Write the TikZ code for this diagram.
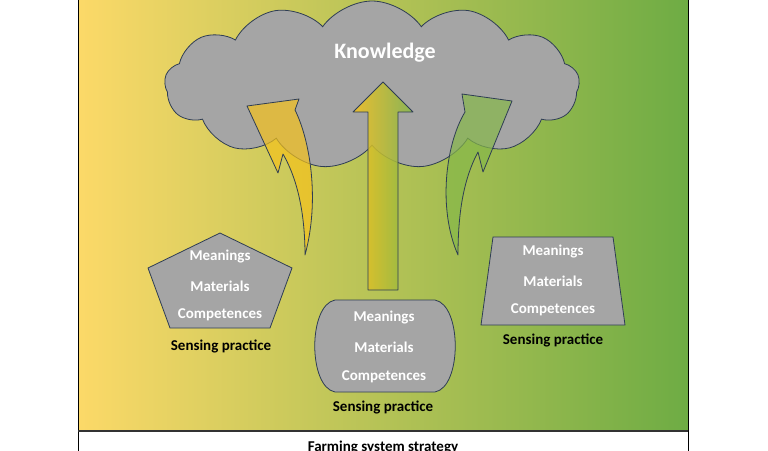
\documentclass[tikz,border=0pt]{standalone}
\usepackage{fontspec}
\setmainfont{Carlito}
\usetikzlibrary{shapes.symbols}
\definecolor{edge}{HTML}{2E3D54}
\definecolor{shapegray}{HTML}{A5A5A5}
\definecolor{yel}{HTML}{FCD968}
\definecolor{mid}{HTML}{E6D76A}
\definecolor{grn}{HTML}{6EAC44}
\definecolor{ayel}{HTML}{F5C21C}
\definecolor{agrn}{HTML}{86B849}
\begin{document}
\begin{tikzpicture}[x=1pt,y=-1pt,
  txt/.style={font=\fontsize{15}{18}\selectfont\bfseries,text=white},
  lbl/.style={font=\fontsize{15}{18}\selectfont\bfseries,text=black},
  blk/.style={fill=shapegray,draw=edge,line width=0.8pt},
  arr/.style={draw=edge,line width=0.8pt,line join=round}]
\useasboundingbox (0,0) rectangle (768,450);
\begin{scope}
\clip (0,0) rectangle (768,450);
\shade[left color=yel,middle color=mid,right color=grn] (78,-2) rectangle (688,431);
\draw[black,line width=0.8pt] (78,-2) -- (78,455) (688,-2) -- (688,455);
\draw[black!80,line width=1.5pt] (78,431) -- (688,431);
\node[lbl] (fss) at (383,448) {Farming system strategy};
\end{scope}
% cloud
\node[cloud,cloud puffs=13,cloud puff arc=110,aspect=2.5,minimum width=415pt,minimum height=168pt,blk] (cloud) at (372,85) {};
\node[font=\fontsize{22}{26}\selectfont\bfseries,text=white] (kn) at (385,53) {Knowledge};
% left arrow
\path[arr,fill=ayel,fill opacity=0.7] (247,106) -- (299,99) -- (295,110)
  .. controls (310,140) and (320,200) .. (305,255)
  .. controls (305,215) and (298,180) .. (283,154)
  -- (278,173) -- cycle;
% right arrow
\path[arr,fill=agrn,fill opacity=0.7] (512,101) -- (462,94) -- (465,112)
  .. controls (445,145) and (438,210) .. (458,255)
  .. controls (458,215) and (463,180) .. (478,152)
  -- (483,172) -- cycle;
% center arrow
\path[arr,left color=ayel,right color=agrn,fill opacity=0.85] (368,290) -- (368,112) -- (353,112) -- (383,82) -- (413,112) -- (398,112) -- (398,290) -- cycle;
% left pentagon
\path[blk] (220,233) -- (292,268) -- (270,328) -- (170,328) -- (148,268) -- cycle;
\node[txt] (l1) at (220,257) {Meanings};
\node[txt] (l2) at (220,286) {Materials};
\node[txt] (l3) at (220,315) {Competences};
\node[lbl] (ll) at (221,346) {Sensing practice};
% middle
\path[blk] (335,300) -- (435,300) .. controls (462,305) and (462,387) .. (435,392) -- (335,392) .. controls (308,387) and (308,305) .. (335,300) -- cycle;
\node[txt] (m1) at (384,318) {Meanings};
\node[txt] (m2) at (384,347) {Materials};
\node[txt] (m3) at (384,377) {Competences};
\node[lbl] (ml) at (383,407) {Sensing practice};
% right trapezoid
\path[blk] (493,237) -- (613,237) -- (625,325) -- (481,325) -- cycle;
\node[txt] (r1) at (553,252) {Meanings};
\node[txt] (r2) at (553,281) {Materials};
\node[txt] (r3) at (553,310) {Competences};
\node[lbl] (rl) at (553,340) {Sensing practice};
\end{tikzpicture}
\end{document}
